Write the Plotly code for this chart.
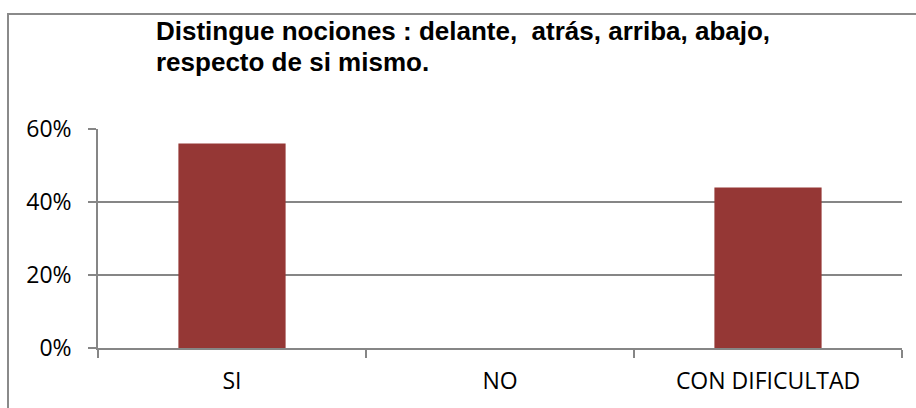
import plotly.graph_objects as go

# data
categories = ["SI", "NO", "CON DIFICULTAD"]
values = [0.56, 0.0, 0.44]
title_lines = ["Distingue nociones : delante,  atrás, arriba, abajo,",
               "respecto de si mismo."]

W, H = 916, 408
L, R, T, B = 98, 14, 129, 60  # plot area 98..902 x 129..348

bar_color = "#953735"
grey = "#868686"

fig = go.Figure(go.Bar(
    x=categories,
    y=values,
    marker=dict(color=bar_color, line=dict(width=0)),
))

fig.update_layout(
    width=W, height=H,
    margin=dict(l=L, r=R, t=T, b=B, pad=0),
    paper_bgcolor="white",
    plot_bgcolor="white",
    bargap=0.6,
    showlegend=False,
    font=dict(family="Open Sans", size=23, color="black"),
)

fig.update_xaxes(
    type="category",
    showline=True, linecolor=grey, linewidth=1.5,
    ticks="outside", tickson="boundaries", ticklen=8, tickcolor=grey, tickwidth=1.5,
    showgrid=False,
    ticklabelstandoff=12,
    tickfont=dict(family="Open Sans", size=23, color="black"),
)

fig.update_yaxes(
    range=[0, 0.6],
    tickvals=[0, 0.2, 0.4, 0.6],
    tickformat=".0%",
    showline=True, linecolor=grey, linewidth=1.5,
    ticks="outside", ticklen=8, tickcolor=grey, tickwidth=1.5,
    showgrid=True, gridcolor=grey, gridwidth=1.5,
    zeroline=False,
    ticklabelstandoff=12,
    tickfont=dict(family="Open Sans", size=23, color="black"),
)

# helpers to convert pixel positions to paper coords
def px(x):
    return (x - L) / (W - L - R)

def py(y):
    return (H - B - y) / (H - T - B)

# outer chart border (only top and left visible in the frame)
fig.add_shape(type="rect", xref="paper", yref="paper",
              x0=px(8), x1=px(925), y0=py(425), y1=py(14),
              line=dict(color="#8a8a8a", width=2), fillcolor="rgba(0,0,0,0)",
              layer="below")

# title, two left aligned bold lines
for line, base in zip(title_lines, [42, 73]):
    fig.add_annotation(
        text="<b>%s</b>" % line,
        xref="paper", yref="paper",
        x=px(154), y=py(base + 6),
        xanchor="left", yanchor="bottom",
        showarrow=False,
        font=dict(family="Liberation Sans", size=26, color="black"),
    )

# page body has a default 8px margin, drop it so the figure sits at 0,0
fig.write_html("out.html", config={"displayModeBar": False},
               post_script="document.body.style.margin='0px';")
